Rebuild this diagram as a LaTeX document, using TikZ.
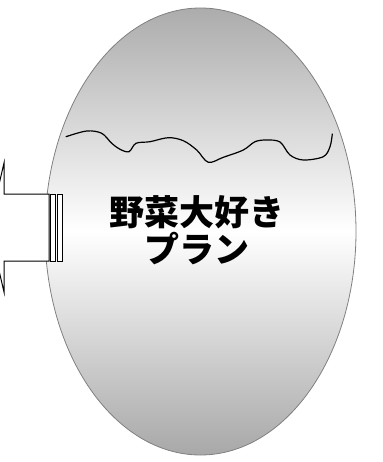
\documentclass[tikz,border=0pt]{standalone}
\usepackage{fontspec}
\usetikzlibrary{shapes.geometric}
\newfontfamily\cjk{Noto Sans CJK JP}
\begin{document}
\begin{tikzpicture}[x=1pt,y=-1pt,
  egg/.style={draw={rgb,255:red,128;green,128;blue,128},line width=0.8pt,
    top color={rgb,255:red,172;green,172;blue,172},
    bottom color={rgb,255:red,168;green,168;blue,168},
    middle color=white},
  arrowbody/.style={draw=black,fill=white,line width=1pt,line join=miter},
  stripe/.style={draw=black,fill=white,line width=0.9pt},
  wave/.style={draw=black,line width=1.2pt,line cap=round},
  label/.style={font=\cjk\bfseries\fontsize{35}{37}\selectfont,align=center,inner sep=0pt}]
\useasboundingbox (0,0) rectangle (382,462);
% egg
\node[egg,ellipse,minimum width=311pt,minimum height=447pt,inner sep=0pt] (egg) at (200.5,231.5) {};
% left arrow (cut at image edge)
\begin{scope}
\clip (0,0) rectangle (382,462);
\draw[arrowbody] (-11,227.5) -- (4,163) -- (4,194) -- (49,194) -- (49,261) -- (4,261) -- (4,292) -- cycle;
\end{scope}
\draw[stripe] (50.7,194) rectangle (55.7,261);
\draw[stripe] (57.7,194) rectangle (62,261);
% wavy line
\draw[wave] plot[smooth,tension=0.55] coordinates {(66,136.7) (86.7,131) (101.7,133.3) (111.7,143.3) (120,149.3) (129,151.7) (136,143.3) (150,141.7) (168.3,137.7) (183.3,140.7) (196.7,150) (208.3,162.3) (223.3,157.3) (243.3,150) (255,141.7) (266.7,140) (280,142) (290,155) (303.3,160) (323.3,156.7) (330,146.7) (332.3,134)};
% text
\node[label] (txt) at (197,230) {野菜大好き\\プラン};
\end{tikzpicture}
\end{document}
